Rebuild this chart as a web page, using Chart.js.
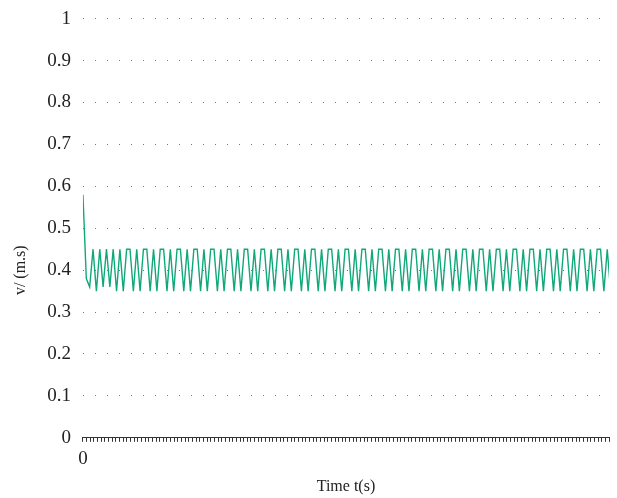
<!DOCTYPE html>
<html>
<head>
<meta charset="utf-8">
<script src="https://cdn.jsdelivr.net/npm/chart.js@4.4.1/dist/chart.umd.min.js"></script>
<style>
  html, body { margin: 0; padding: 0; background: #fff; }
  #wrap { width: 617px; height: 498px; }
</style>
</head>
<body>
<div id="wrap"><canvas id="speedChart"></canvas></div>
<script>
// speed samples (m/s)
const speedValues = [
    0.58, 0.38, 0.36,
    0.45, 0.35, 0.45, 0.36, 0.45, 0.36, 0.45, 0.35, 0.45, 0.35,
    0.45, 0.45, 0.35, 0.45, 0.35, 0.45, 0.45, 0.35, 0.45, 0.35,
    0.45, 0.45, 0.35, 0.45, 0.35, 0.45, 0.45, 0.35, 0.45, 0.35,
    0.45, 0.45, 0.35, 0.45, 0.35, 0.45, 0.45, 0.35, 0.45, 0.35,
    0.45, 0.45, 0.35, 0.45, 0.35, 0.45, 0.45, 0.35, 0.45, 0.35,
    0.45, 0.45, 0.35, 0.45, 0.35, 0.45, 0.45, 0.35, 0.45, 0.35,
    0.45, 0.45, 0.35, 0.45, 0.35, 0.45, 0.45, 0.35, 0.45, 0.35,
    0.45, 0.45, 0.35, 0.45, 0.35, 0.45, 0.45, 0.35, 0.45, 0.35,
    0.45, 0.45, 0.35, 0.45, 0.35, 0.45, 0.45, 0.35, 0.45, 0.35,
    0.45, 0.45, 0.35, 0.45, 0.35, 0.45, 0.45, 0.35, 0.45, 0.35,
    0.45, 0.45, 0.35, 0.45, 0.35, 0.45, 0.45, 0.35, 0.45, 0.35,
    0.45, 0.45, 0.35, 0.45, 0.35, 0.45, 0.45, 0.35, 0.45, 0.35,
    0.45, 0.45, 0.35, 0.45, 0.35, 0.45, 0.45, 0.35, 0.45, 0.35,
    0.45, 0.45, 0.35, 0.45, 0.35, 0.45, 0.45, 0.35, 0.45, 0.35,
    0.45, 0.45, 0.35, 0.45, 0.35, 0.45, 0.45, 0.35, 0.45, 0.35,
    0.45, 0.45, 0.35, 0.45, 0.35, 0.45, 0.45, 0.35, 0.45, 0.35,
    0.45, 0.45, 0.35, 0.45, 0.35, 0.45
];
const sampleStep = 0.92;      // time between samples
const timeMax = 144;          // right end of the time axis
const yTickValues = [0, 0.1, 0.2, 0.3, 0.4, 0.5, 0.6, 0.7, 0.8, 0.9, 1];
const xLabelShown = [0];

const points = speedValues.map((v, i) => ({ x: i * sampleStep, y: v }));
const serif = "'Liberation Serif', 'DejaVu Serif', serif";

new Chart(document.getElementById('speedChart'), {
    type: 'line',
    data: {
        datasets: [{
            data: points,
            borderColor: '#10a878',
            borderWidth: 1.4,
            pointRadius: 0,
            tension: 0,
            fill: false
        }]
    },
    options: {
        responsive: true,
        maintainAspectRatio: false,
        animation: false,
        layout: { padding: { left: 11, top: 4, right: -4, bottom: 2 } },
        plugins: { legend: { display: false }, tooltip: { enabled: false } },
        scales: {
            x: {
                type: 'linear',
                min: 0,
                max: timeMax,
                grid: { drawOnChartArea: false, drawTicks: true, tickLength: 4, color: '#333' },
                border: { display: true, color: '#333', width: 1 },
                ticks: {
                    stepSize: 1,
                    autoSkip: false,
                    maxRotation: 0,
                    padding: 8,
                    color: '#222',
                    font: { family: serif, size: 19, lineHeight: 1 },
                    callback: v => xLabelShown.includes(v) ? String(v) : ''
                },
                title: {
                    display: true,
                    text: 'Time t(s)',
                    color: '#222',
                    font: { family: serif, size: 16 },
                    padding: { top: 0, bottom: 0 }
                }
            },
            y: {
                min: 0,
                max: 1,
                afterBuildTicks: axis => { axis.ticks = yTickValues.map(v => ({ value: v })); },
                grid: { drawTicks: false, color: '#7a7a7a', lineWidth: 1 },
                border: { display: false, dash: [1, 11] },
                ticks: {
                    padding: 12,
                    color: '#222',
                    font: { family: serif, size: 19, lineHeight: 0.7 },
                    callback: v => String(Math.round(v * 10) / 10)
                },
                title: {
                    display: true,
                    text: 'v/ (m.s)                     ',
                    color: '#222',
                    font: { family: serif, size: 16 },
                    padding: { top: 0, bottom: 5 }
                }
            }
        }
    }
});
</script>
</body>
</html>
